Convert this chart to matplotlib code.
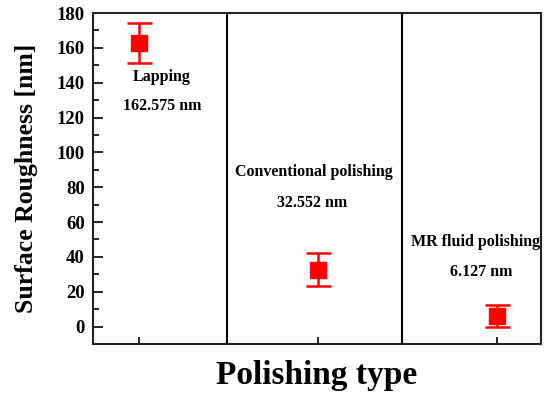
import matplotlib
matplotlib.use("Agg")
import matplotlib.pyplot as plt
from matplotlib.ticker import MultipleLocator

plt.rcParams['font.family'] = ['Liberation Serif', 'DejaVu Serif']
plt.rcParams['font.weight'] = 'bold'

# Measured roughness per polishing method
methods = ["Lapping", "Conventional polishing", "MR fluid polishing"]
roughness = [162.575, 32.552, 6.127]
errors = [11.5, 9.4, 6.4]
value_labels = ["162.575 nm", "32.552 nm", "6.127 nm"]
positions = [1, 2, 3]

fig = plt.figure(figsize=(5.46, 3.93), dpi=100)
ax = fig.add_axes([93 / 546, 1 - 344 / 393, (541 - 93) / 546, (344 - 13) / 393])

ax.errorbar(positions, roughness, yerr=errors, fmt='s', color='red',
            markersize=11, capsize=9, elinewidth=1.8, capthick=1.8)

# Separators between the method groups
for xs in (1.49, 2.47):
    ax.axvline(xs, color='black', lw=1.5)

# Method names with their mean values
name_pos = [(1.13, 143), (1.98, 88.5), (2.88, 48.5)]
val_pos = [(1.13, 126.5), (1.97, 71), (2.91, 31.5)]
for name, val, (xn, yn), (xv, yv) in zip(methods, value_labels, name_pos, val_pos):
    ax.text(xn, yn, name, ha='center', va='center', fontsize=11.5, fontweight='bold')
    ax.text(xv, yv, val, ha='center', va='center', fontsize=11.5, fontweight='bold')

ax.set_xlim(0.745, 3.245)
ax.set_ylim(-10, 180)
ax.set_xticks(positions)
ax.set_xticklabels([])
ax.yaxis.set_major_locator(MultipleLocator(20))
ax.yaxis.set_minor_locator(MultipleLocator(10))
ax.tick_params(axis='y', which='major', direction='in', length=7, width=1.2,
               labelsize=13.5, pad=6)
ax.tick_params(axis='y', which='minor', direction='in', length=4, width=1.2)
ax.tick_params(axis='x', which='major', direction='in', length=5, width=1.2)
for lbl in ax.get_yticklabels():
    lbl.set_fontweight('bold')
for sp in ax.spines.values():
    sp.set_linewidth(1.5)
    sp.set_color('#222222')

ax.set_ylabel("Surface Roughness [nm]", fontsize=18.5, fontweight='bold', labelpad=13)
ax.set_xlabel("Polishing type", fontsize=24, fontweight='bold', labelpad=8)

fig.savefig("out.png", dpi=100)
